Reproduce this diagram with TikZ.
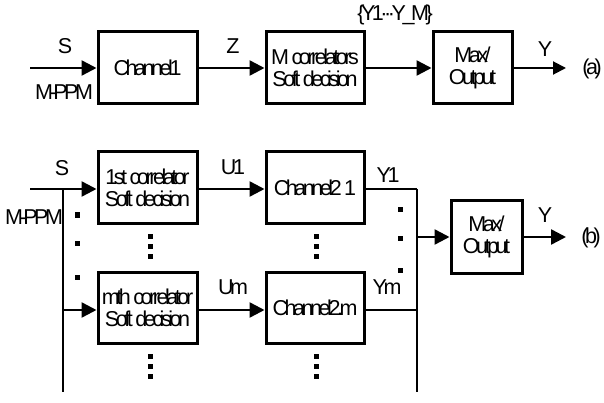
\documentclass[tikz,border=0pt]{standalone}
\usepackage{fontspec}
\setmainfont{Liberation Sans}[LetterSpace=-16]
\usetikzlibrary{arrows.meta}
\begin{document}
\begin{tikzpicture}[x=1pt,y=-1pt,
  txt/.style={font=\fontsize{21.5}{22}\selectfont},
  blk/.style={txt,draw,line width=3pt,inner sep=0pt,align=center,
    minimum width=99pt,minimum height=72pt},
  narrow/.style={minimum width=79pt},
  lbl/.style={txt,inner sep=0pt},
  wire/.style={line width=2.5pt},
  bus/.style={line width=2pt},
  arr/.style={wire,-{Triangle[length=15pt,width=15pt]}},
  arrthin/.style={line width=2pt,-{Triangle[length=13pt,width=13pt]}},
  dotsq/.style={fill=black,minimum size=5pt,inner sep=0pt}]
\useasboundingbox (0,0) rectangle (604,403);

% ---------- (a) ----------
\node[blk] (ch1) at (147.5,68) {Channel1};
\node[blk,minimum width=98pt] (corr) at (315,68) {M correlators\\Soft decision};
\node[blk,narrow] (maxa) at (472.5,68) {Max/\\Output};
\coordinate (ina) at (30,68);
\coordinate (outa) at (566,68);

\draw[arr] (ina) -- (ch1.west);
\draw[arr] (ch1.east) -- (corr.west);
\draw[arr] (corr.east) -- (maxa.west);
\draw[arrthin] (maxa.east) -- (outa);

\node[lbl] (sa) at (65,46) {S};
\node[lbl] (mppma) at (64,92) {M-PPM};
\node[lbl] (z) at (233,46) {Z};
\node[lbl] (ym) at (395,15) {\{Y1···Y\_M\}};
\node[lbl] (ya) at (545,49) {Y};
\node[lbl] (la) at (592,69) {(a)};

% ---------- (b) ----------
\node[blk,minimum height=71pt] (c1) at (147.5,187.5) {1st correlator\\Soft decision};
\node[blk,minimum height=71pt] (cm) at (147.5,307.5) {mth correlator\\Soft decision};
\node[blk,minimum height=71pt,minimum width=98pt] (h1) at (315,187.5) {Channel2 1};
\node[blk,minimum height=71pt,minimum width=98pt] (hm) at (315,307.5) {Channel2.m};
\node[blk,minimum width=71pt] (maxb) at (486.5,237) {Max/\\Output};

% input bus
\coordinate (inb) at (30,189);
\coordinate (lbtop) at (63,189);
\coordinate (lbm) at (63,310);
\coordinate (lbbot) at (63,392);
\draw[arr] (inb) -- (c1.west |- inb);
\draw[bus] (lbtop) -- (lbbot);
\draw[arr] (lbm) -- (cm.west |- lbm);

\draw[arr] (c1.east |- inb) -- (h1.west |- inb);
\draw[arr] (cm.east |- lbm) -- (hm.west |- lbm);

% output bus
\coordinate (rbtop) at (417,189);
\coordinate (rbm) at (417,310);
\coordinate (rbmid) at (417,237);
\coordinate (rbbot) at (417,392);
\coordinate (outb) at (566,237);
\draw[wire] (h1.east |- rbtop) -- (rbtop);
\draw[wire] (hm.east |- rbm) -- (rbm);
\draw[bus] (rbtop) -- (rbbot);
\draw[arr] (rbmid) -- (maxb.west);
\draw[arr] (maxb.east) -- (outb);

\node[lbl] (sb) at (62,168) {S};
\node[lbl] (mppmb) at (34,217) {M-PPM};
\node[lbl] (u1) at (233,167) {U1};
\node[lbl] (um) at (233,287) {Um};
\node[lbl] (y1) at (388,175) {Y1};
\node[lbl] (ymb) at (387,287) {Ym};
\node[lbl] (yb) at (545,215) {Y};
\node[lbl] (lb) at (591,238) {(b)};

% ellipsis dots
\foreach \yy [count=\i] in {215,243,277} \node[dotsq] (dl\i) at (77,\yy) {};
\foreach \yy [count=\i] in {210,238,270} \node[dotsq] (dr\i) at (400,\yy) {};
\foreach \xx/\nm in {150/c,316/h}{
  \foreach \yy [count=\i] in {236,246,256} \node[dotsq] (d\nm a\i) at (\xx,\yy) {};
  \foreach \yy [count=\i] in {356,366,376} \node[dotsq] (d\nm b\i) at (\xx,\yy) {};
}
\end{tikzpicture}
\end{document}
